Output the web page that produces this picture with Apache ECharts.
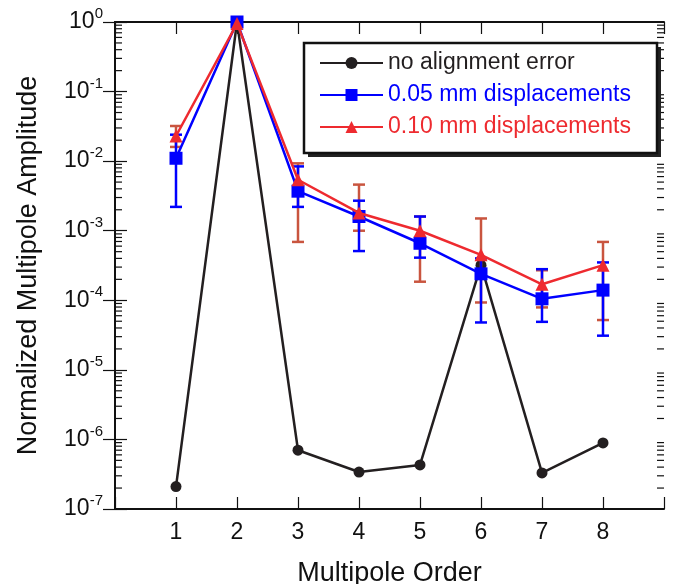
<!DOCTYPE html>
<html><head><meta charset="utf-8">
<script src="https://cdn.jsdelivr.net/npm/echarts@6/dist/echarts.min.js"></script>
<style>html,body{margin:0;padding:0;background:#fff}#c{width:673px;height:584px}</style>
</head><body><div id="c"></div>
<script>
// ---- data ----
const orders = [1, 2, 3, 4, 5, 6, 7, 8];
const noError = [2.1e-7, 1, 7.0e-7, 3.4e-7, 4.3e-7, 3.2e-4, 3.3e-7, 8.9e-7];
const disp005 = [1.1e-2, 1, 3.7e-3, 1.6e-3, 6.6e-4, 2.4e-4, 1.05e-4, 1.4e-4];
const disp010 = [2.3e-2, 0.95, 5.4e-3, 1.8e-3, 1.0e-3, 4.5e-4, 1.7e-4, 3.2e-4];
const disp005Low  = [2.2e-3, null, 2.2e-3, 5.1e-4, 4.1e-4, 4.8e-5, 4.9e-5, 3.1e-5];
const disp005High = [2.4e-2, null, 8.4e-3, 2.7e-3, 1.6e-3, 4.0e-4, 2.8e-4, 3.5e-4];
const disp010Low  = [1.6e-2, null, 6.9e-4, 1.0e-3, 1.85e-4, 9.3e-5, 7.9e-5, 5.2e-5];
const disp010High = [3.2e-2, null, 9.3e-3, 4.6e-3, 1.6e-3, 1.5e-3, 2.7e-4, 6.9e-4];
const seriesNames = ['no alignment error', '0.05 mm displacements', '0.10 mm displacements'];
const xTickLabels = ['1', '2', '3', '4', '5', '6', '7', '8'];
const yDecades = [-7, -6, -5, -4, -3, -2, -1, 0];

const FONT = "'Liberation Sans', Arial, sans-serif";
const cBlack = '#231f20', cBlue = '#0000ff', cRed = '#ee2a2f', cErrRed = '#c9553f';

const minorVals = [];
for (let i = 0; i < yDecades.length - 1; i++) {
  for (let k = 2; k <= 9; k++) minorVals.push([k * Math.pow(10, yDecades[i])]);
}

function pairs(ys) { return orders.map((x, i) => [x, ys[i]]); }
function errData(lo, hi) {
  const out = [];
  orders.forEach((x, i) => { if (lo[i] != null) out.push([x, lo[i], hi[i]]); });
  return out;
}
function errRender(color) {
  return function (params, api) {
    const x = api.value(0);
    const p1 = api.coord([x, api.value(1)]);
    const p2 = api.coord([x, api.value(2)]);
    const w = 6;
    const st = { stroke: color, lineWidth: 2.5 };
    return { type: 'group', children: [
      { type: 'line', shape: { x1: p1[0], y1: p1[1], x2: p2[0], y2: p2[1] }, style: st },
      { type: 'line', shape: { x1: p1[0] - w, y1: p1[1], x2: p1[0] + w, y2: p1[1] }, style: st },
      { type: 'line', shape: { x1: p2[0] - w, y1: p2[1], x2: p2[0] + w, y2: p2[1] }, style: st }
    ]};
  };
}

const chart = echarts.init(document.getElementById('c'), null, { renderer: 'canvas' });
const axisLine = { show: true, lineStyle: { color: '#111', width: 2 } };
const xAxisBase = {
  type: 'value', min: 0, max: 9, interval: 1,
  axisLine: axisLine, splitLine: { show: false },
  axisTick: { inside: true, length: 12, lineStyle: { color: '#111', width: 1.2 } }
};
const yAxisBase = {
  type: 'log', logBase: 10, min: 1e-7, max: 1, splitNumber: 7,
  axisLine: axisLine, splitLine: { show: false },
  axisTick: { inside: true, length: 12, lineStyle: { color: '#111', width: 1.2 } }
};

chart.setOption({
  animation: false,
  backgroundColor: '#fff',
  textStyle: { fontFamily: FONT },
  grid: { left: 115, right: 9, top: 22, bottom: 75, containLabel: false, outerBoundsMode: 'none' },
  graphic: [
    { type: 'rect', z: 5, shape: { x: 308, y: 47, width: 353, height: 110 }, style: { fill: '#222' } },
    { type: 'rect', z: 6, shape: { x: 304, y: 43, width: 353, height: 110 }, style: { fill: '#fff', stroke: '#111', lineWidth: 2.5 } }
  ],
  legend: {
    orient: 'vertical', left: 304, top: 42, z: 10,
    padding: [9, 24, 11, 15],
    itemWidth: 63, itemHeight: 15, itemGap: 8,
    textStyle: { fontFamily: FONT, fontSize: 23, lineHeight: 24 },
    data: [
      { name: seriesNames[0], textStyle: { color: cBlack } },
      { name: seriesNames[1], textStyle: { color: cBlue } },
      { name: seriesNames[2], textStyle: { color: cRed } }
    ]
  },
  xAxis: [
    Object.assign({}, xAxisBase, {
      position: 'bottom',
      axisLabel: { fontSize: 23, color: '#111', margin: 12, fontFamily: FONT,
        formatter: v => (v >= 1 && v <= 8 ? xTickLabels[v - 1] : '') },
      name: 'Multipole Order', nameLocation: 'middle', nameGap: 51,
      nameTextStyle: { fontSize: 27, color: '#111', fontFamily: FONT }
    }),
    Object.assign({}, xAxisBase, { position: 'top', axisLabel: { show: false } })
  ],
  yAxis: [
    Object.assign({}, yAxisBase, {
      position: 'left',
      axisLabel: {
        margin: 12, color: '#111', fontSize: 23, fontFamily: FONT,
        formatter: v => '10{sup|' + Math.round(Math.log10(v)) + '}',
        rich: { sup: { fontSize: 15, color: '#111', fontFamily: FONT, padding: [0, 0, 16, 0] } }
      },
      name: 'Normalized Multipole Amplitude', nameLocation: 'middle', nameGap: 73,
      nameTextStyle: { fontSize: 27, color: '#111', fontFamily: FONT }
    }),
    Object.assign({}, yAxisBase, { position: 'right', axisLabel: { show: false } })
  ],
  series: [
    {
      type: 'custom', name: 'minorTicks', xAxisIndex: 0, yAxisIndex: 0, silent: true, z: 1,
      data: minorVals,
      renderItem: function (params, api) {
        const v = api.value(0);
        const l = api.coord([0, v]);
        const r = api.coord([9, v]);
        const st = { stroke: '#111', lineWidth: 1.2 };
        return { type: 'group', children: [
          { type: 'line', shape: { x1: l[0], y1: l[1], x2: l[0] + 7, y2: l[1] }, style: st },
          { type: 'line', shape: { x1: r[0], y1: r[1], x2: r[0] - 7, y2: r[1] }, style: st }
        ]};
      }
    },
    {
      type: 'line', name: seriesNames[0], data: pairs(noError), z: 2,
      color: cBlack, symbol: 'circle', symbolSize: 11, clip: false,
      lineStyle: { color: cBlack, width: 2.5 }, itemStyle: { color: cBlack }
    },
    {
      type: 'custom', name: 'err010', z: 3, clip: false,
      data: errData(disp010Low, disp010High), renderItem: errRender(cErrRed)
    },
    {
      type: 'custom', name: 'err005', z: 4, clip: false,
      data: errData(disp005Low, disp005High), renderItem: errRender(cBlue)
    },
    {
      type: 'line', name: seriesNames[1], data: pairs(disp005), z: 5,
      color: cBlue, symbol: 'rect', symbolSize: 13, clip: false,
      lineStyle: { color: cBlue, width: 2.5 }, itemStyle: { color: cBlue }
    },
    {
      type: 'line', name: seriesNames[2], data: pairs(disp010), z: 6,
      color: cRed, symbol: 'triangle', symbolSize: 13, clip: false,
      lineStyle: { color: cRed, width: 2.5 }, itemStyle: { color: cRed }
    }
  ]
});
</script></body></html>
